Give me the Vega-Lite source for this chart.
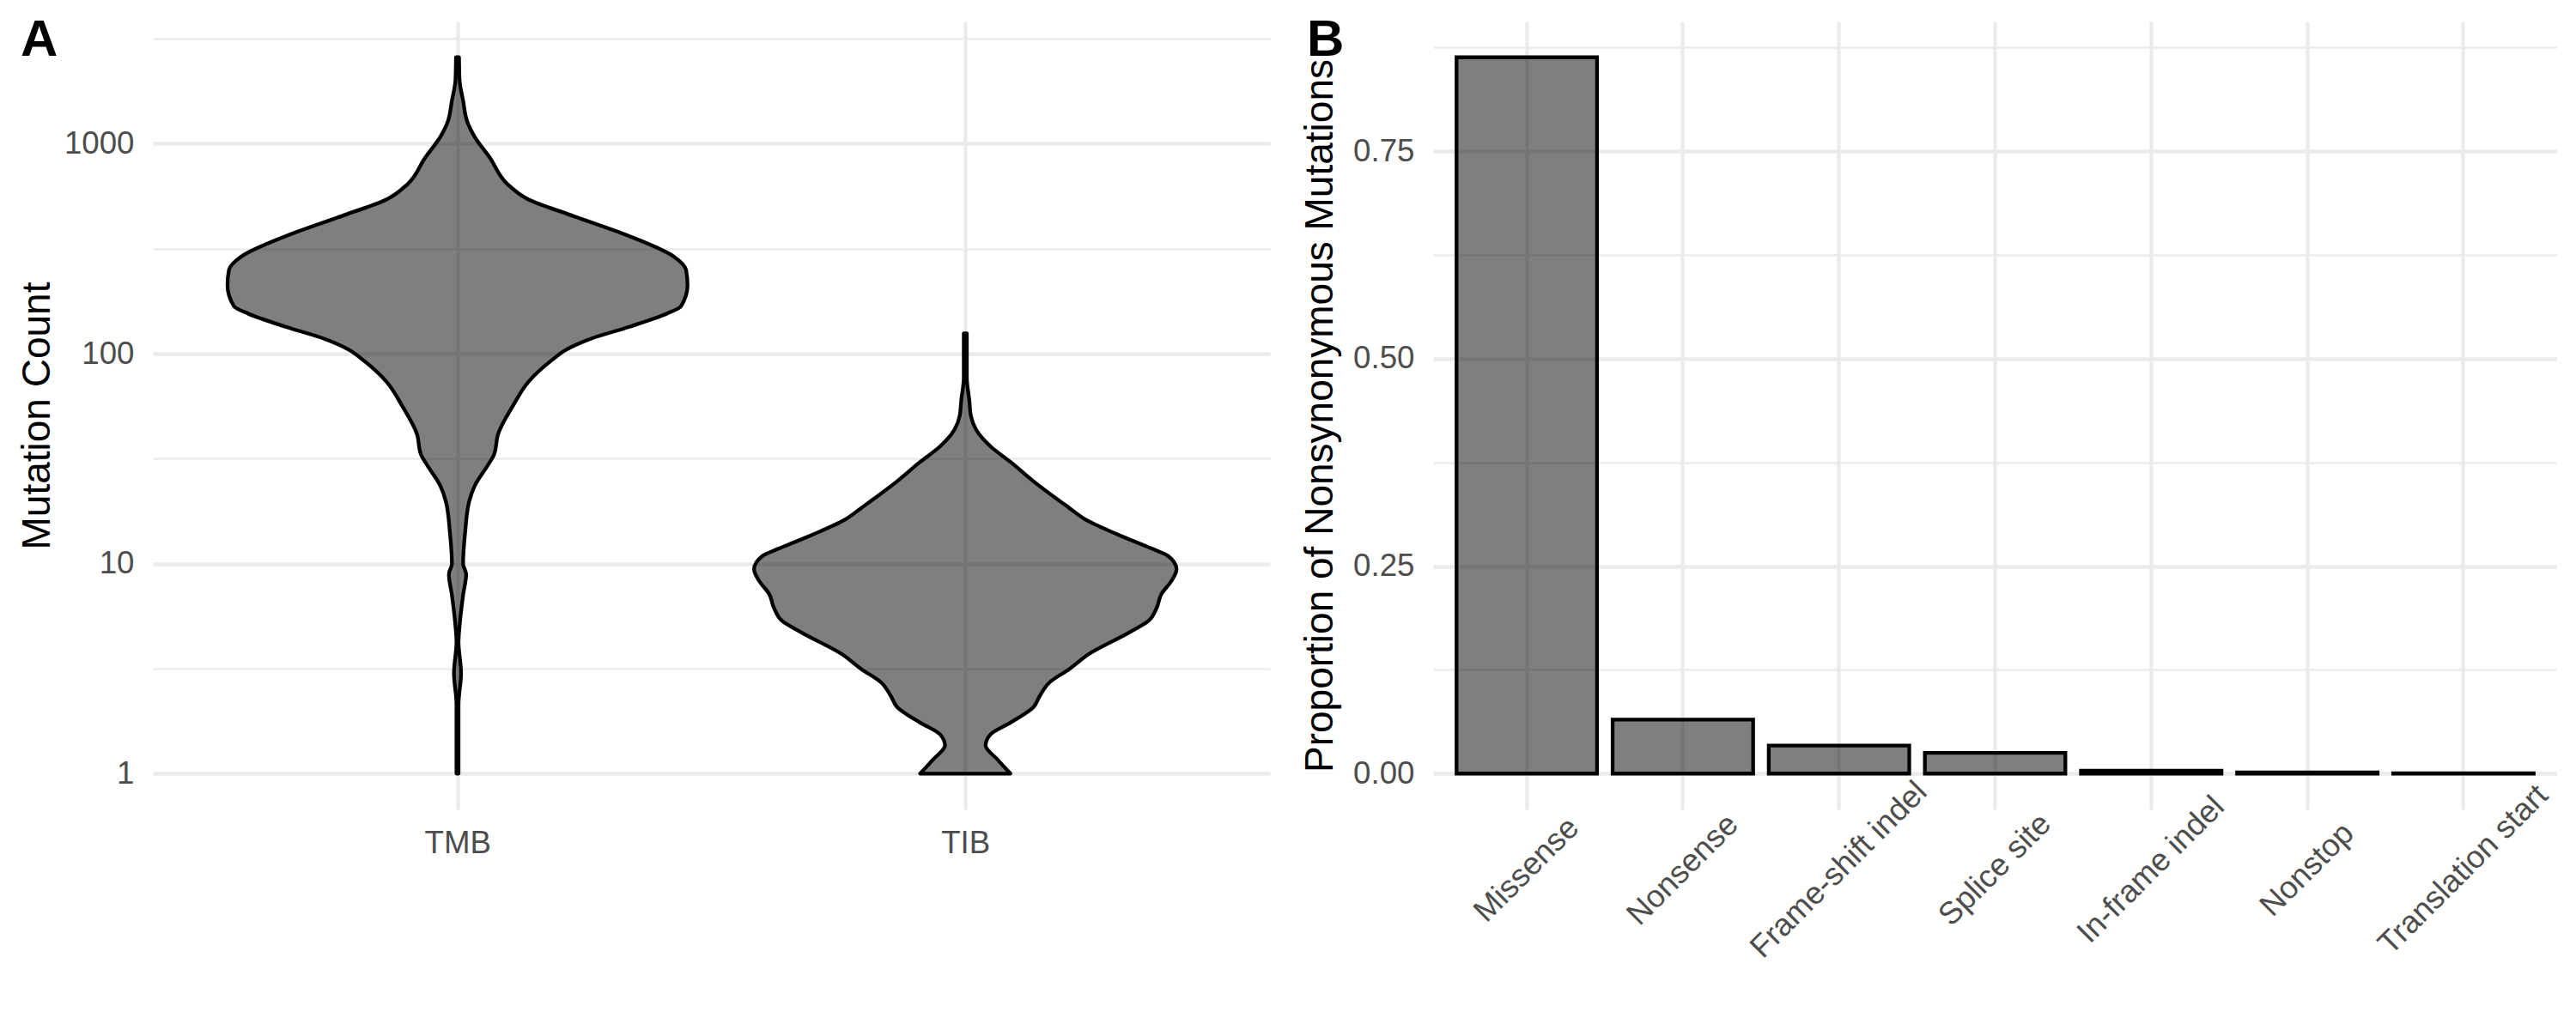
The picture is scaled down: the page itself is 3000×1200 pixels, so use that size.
{
  "$schema": "https://vega.github.io/schema/vega-lite/v6.json",
  "background": "white",
  "padding": {"left": 20, "top": 17, "right": 0, "bottom": 0},
  "bounds": "flush",
  "spacing": 190,
  "config": {
    "font": "Liberation Sans",
    "view": {"stroke": null},
    "axis": {
      "domain": false,
      "ticks": false,
      "gridColor": "#EBEBEB",
      "labelColor": "#4D4D4D",
      "labelFontSize": 36.7,
      "labelFont": "Liberation Sans",
      "titleFont": "Liberation Sans",
      "titleFontSize": 46,
      "titleFontWeight": "normal",
      "titleColor": "black",
      "labelOverlap": false,
      "labelFlush": false,
      "labelLimit": 1000
    }
  },
  "datasets": {
    "violin": [
      {"metric": "TMB", "count": 1, "lo": 0.998, "hi": 1.002},
      {"metric": "TMB", "count": 2.13, "lo": 0.998, "hi": 1.002},
      {"metric": "TMB", "count": 3.01, "lo": 0.993, "hi": 1.007},
      {"metric": "TMB", "count": 4.24, "lo": 0.998, "hi": 1.002},
      {"metric": "TMB", "count": 5.03, "lo": 0.996, "hi": 1.004},
      {"metric": "TMB", "count": 7.08, "lo": 0.989, "hi": 1.011},
      {"metric": "TMB", "count": 8.9, "lo": 0.983, "hi": 1.017},
      {"metric": "TMB", "count": 9.98, "lo": 0.989, "hi": 1.011},
      {"metric": "TMB", "count": 14.1, "lo": 0.985, "hi": 1.015},
      {"metric": "TMB", "count": 19.8, "lo": 0.977, "hi": 1.023},
      {"metric": "TMB", "count": 23.5, "lo": 0.966, "hi": 1.034},
      {"metric": "TMB", "count": 29.5, "lo": 0.94, "hi": 1.06},
      {"metric": "TMB", "count": 33.1, "lo": 0.928, "hi": 1.072},
      {"metric": "TMB", "count": 41.5, "lo": 0.92, "hi": 1.08},
      {"metric": "TMB", "count": 56.9, "lo": 0.89, "hi": 1.11},
      {"metric": "TMB", "count": 73.6, "lo": 0.86, "hi": 1.14},
      {"metric": "TMB", "count": 92.4, "lo": 0.816, "hi": 1.184},
      {"metric": "TMB", "count": 104.8, "lo": 0.785, "hi": 1.215},
      {"metric": "TMB", "count": 117.5, "lo": 0.739, "hi": 1.261},
      {"metric": "TMB", "count": 134, "lo": 0.663, "hi": 1.337},
      {"metric": "TMB", "count": 155, "lo": 0.588, "hi": 1.412},
      {"metric": "TMB", "count": 168, "lo": 0.56, "hi": 1.44},
      {"metric": "TMB", "count": 212, "lo": 0.547, "hi": 1.453},
      {"metric": "TMB", "count": 251, "lo": 0.55, "hi": 1.45},
      {"metric": "TMB", "count": 290, "lo": 0.574, "hi": 1.426},
      {"metric": "TMB", "count": 364, "lo": 0.663, "hi": 1.337},
      {"metric": "TMB", "count": 457, "lo": 0.777, "hi": 1.223},
      {"metric": "TMB", "count": 542, "lo": 0.86, "hi": 1.14},
      {"metric": "TMB", "count": 643, "lo": 0.902, "hi": 1.098},
      {"metric": "TMB", "count": 856, "lo": 0.936, "hi": 1.064},
      {"metric": "TMB", "count": 1077, "lo": 0.966, "hi": 1.034},
      {"metric": "TMB", "count": 1277, "lo": 0.981, "hi": 1.019},
      {"metric": "TMB", "count": 1604, "lo": 0.989, "hi": 1.011},
      {"metric": "TMB", "count": 2015, "lo": 0.996, "hi": 1.004},
      {"metric": "TMB", "count": 2580, "lo": 0.997, "hi": 1.003},
      {"metric": "TIB", "count": 1, "lo": 1.911, "hi": 2.089},
      {"metric": "TIB", "count": 1.17, "lo": 1.937, "hi": 2.063},
      {"metric": "TIB", "count": 1.36, "lo": 1.96, "hi": 2.04},
      {"metric": "TIB", "count": 1.54, "lo": 1.95, "hi": 2.05},
      {"metric": "TIB", "count": 1.75, "lo": 1.911, "hi": 2.089},
      {"metric": "TIB", "count": 2.07, "lo": 1.866, "hi": 2.134},
      {"metric": "TIB", "count": 2.35, "lo": 1.853, "hi": 2.147},
      {"metric": "TIB", "count": 2.72, "lo": 1.834, "hi": 2.166},
      {"metric": "TIB", "count": 3.15, "lo": 1.795, "hi": 2.205},
      {"metric": "TIB", "count": 3.72, "lo": 1.756, "hi": 2.244},
      {"metric": "TIB", "count": 4.69, "lo": 1.678, "hi": 2.322},
      {"metric": "TIB", "count": 5.32, "lo": 1.64, "hi": 2.36},
      {"metric": "TIB", "count": 6.17, "lo": 1.623, "hi": 2.377},
      {"metric": "TIB", "count": 7.15, "lo": 1.614, "hi": 2.386},
      {"metric": "TIB", "count": 8.28, "lo": 1.594, "hi": 2.406},
      {"metric": "TIB", "count": 9.4, "lo": 1.584, "hi": 2.416},
      {"metric": "TIB", "count": 10.9, "lo": 1.601, "hi": 2.399},
      {"metric": "TIB", "count": 11.8, "lo": 1.633, "hi": 2.367},
      {"metric": "TIB", "count": 13.7, "lo": 1.698, "hi": 2.302},
      {"metric": "TIB", "count": 16.2, "lo": 1.763, "hi": 2.237},
      {"metric": "TIB", "count": 18.4, "lo": 1.795, "hi": 2.205},
      {"metric": "TIB", "count": 24.7, "lo": 1.866, "hi": 2.134},
      {"metric": "TIB", "count": 30.5, "lo": 1.911, "hi": 2.089},
      {"metric": "TIB", "count": 36.1, "lo": 1.95, "hi": 2.05},
      {"metric": "TIB", "count": 43.6, "lo": 1.979, "hi": 2.021},
      {"metric": "TIB", "count": 50.6, "lo": 1.989, "hi": 2.011},
      {"metric": "TIB", "count": 59.8, "lo": 1.992, "hi": 2.008},
      {"metric": "TIB", "count": 76.9, "lo": 1.997, "hi": 2.003},
      {"metric": "TIB", "count": 124.8, "lo": 1.997, "hi": 2.003}
    ],
    "types": [
      {"type": "Missense", "prop": 0.863},
      {"type": "Nonsense", "prop": 0.065},
      {"type": "Frame-shift indel", "prop": 0.0337},
      {"type": "Splice site", "prop": 0.0249},
      {"type": "In-frame indel", "prop": 0.0035},
      {"type": "Nonstop", "prop": 0.0015},
      {"type": "Translation start", "prop": 0.0004}
    ]
  },
  "hconcat": [
    {
      "width": 1301,
      "height": 918,
      "title": {"text": "A", "anchor": "start", "frame": "group", "fontSize": 60, "fontWeight": "bold", "color": "black", "font": "Liberation Sans", "baseline": "alphabetic", "offset": 0, "dx": -154, "dy": 100},
      "data": {"name": "violin"},
      "mark": {"type": "area", "orient": "horizontal", "interpolate": "monotone", "fill": "black", "fillOpacity": 0.5, "stroke": "black", "strokeWidth": 4.3, "strokeJoin": "round"},
      "encoding": {
        "y": {
          "field": "count", "type": "quantitative",
          "scale": {"type": "log", "domain": [0.6753, 3821], "nice": false},
          "axis": {
            "values": [1, 3.1623, 10, 31.623, 100, 316.23, 1000, 3162.3],
            "labelExpr": "abs(log(datum.value)/LN10 - round(log(datum.value)/LN10)) < 0.01 ? format(datum.value, 'd') : ''",
            "gridWidth": {"condition": {"test": "abs(log(datum.value)/LN10 - round(log(datum.value)/LN10)) < 0.01", "value": 4.3}, "value": 2.3},
            "labelPadding": 22,
            "title": "Mutation Count",
            "titleX": -135,
            "titleY": 459,
            "titleBaseline": "middle"
          }
        },
        "x": {
          "field": "lo", "type": "quantitative",
          "scale": {"domain": [0.4, 2.6], "nice": false, "zero": false},
          "axis": {"values": [1, 2], "labelExpr": "datum.value == 1 ? 'TMB' : 'TIB'", "title": null, "gridWidth": 4.3, "labelPadding": 21}
        },
        "x2": {"field": "hi"},
        "detail": {"field": "metric", "type": "nominal"}
      }
    },
    {
      "width": 1309,
      "height": 918,
      "title": {"text": "B", "anchor": "start", "frame": "group", "fontSize": 60, "fontWeight": "bold", "color": "black", "font": "Liberation Sans", "baseline": "alphabetic", "offset": 0, "dx": -147, "dy": 100},
      "data": {"name": "types"},
      "mark": {"type": "bar", "fill": "black", "fillOpacity": 0.5, "stroke": "black", "strokeWidth": 4.3},
      "encoding": {
        "x": {
          "field": "type", "type": "nominal", "sort": null,
          "scale": {"paddingInner": 0.1, "paddingOuter": 0.15},
          "axis": {"title": null, "grid": true, "gridWidth": 4.3, "bandPosition": 0.5, "labelAngle": -45, "labelAlign": "center", "labelBaseline": "middle", "labelPadding": 70}
        },
        "y": {
          "field": "prop", "type": "quantitative",
          "scale": {"domain": [-0.04315, 0.90615], "nice": false, "zero": false},
          "axis": {
            "values": [0, 0.125, 0.25, 0.375, 0.5, 0.625, 0.75, 0.875],
            "labelExpr": "abs(datum.value*4 - round(datum.value*4)) < 0.01 ? format(datum.value, '.2f') : ''",
            "gridWidth": {"condition": {"test": "abs(datum.value*4 - round(datum.value*4)) < 0.01", "value": 4.3}, "value": 2.3},
            "labelPadding": 22,
            "title": "Proportion of Nonsynonymous Mutations",
            "titleX": -132,
            "titleY": 459,
            "titleBaseline": "middle"
          }
        }
      }
    }
  ]
}
